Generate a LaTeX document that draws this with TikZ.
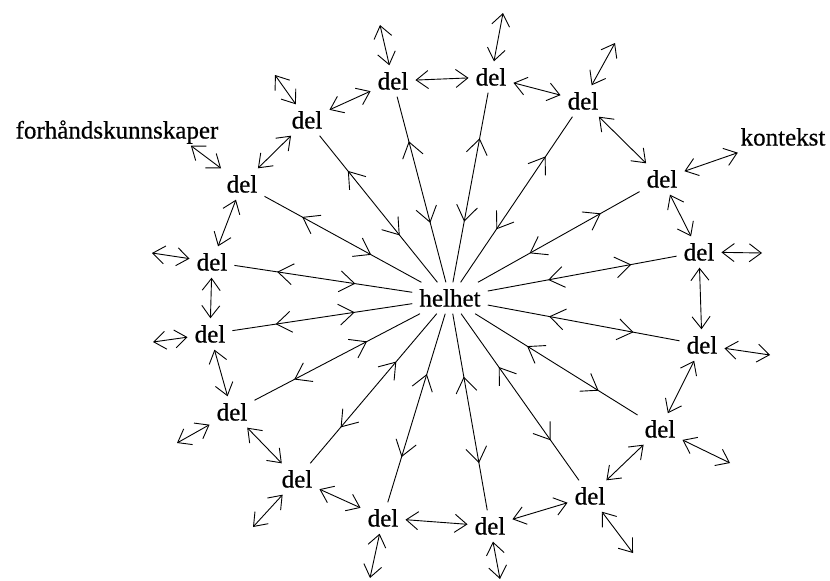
\documentclass[tikz,border=0pt]{standalone}
\usepackage{fontspec}
\setmainfont{Liberation Serif}[FakeBold=0.6]
\usetikzlibrary{arrows.meta,decorations.markings}
\begin{document}
\begin{tikzpicture}[x=1pt,y=-1pt,
  lbl/.style={font=\fontsize{25}{30}\selectfont, inner sep=7pt, text height=17pt, text depth=0pt},
  ringtip/.tip={Straight Barb[length=12pt,width=18pt]},
  midtip/.tip={Straight Barb[length=15pt,width=21pt]},
  ring/.style={line width=0.9pt, ringtip-ringtip},
  spoke/.style={line width=0.9pt, postaction={decorate}, decoration={markings,
     mark=at position 0.32 with {\arrowreversed{midtip}},
     mark=at position 0.76 with {\arrow{midtip}}}}
]
\useasboundingbox (0,0) rectangle (830,581);

\node[lbl] (h) at (450,298) {helhet};
\node[lbl] (d1) at (307,120) {del};
\node[lbl] (d2) at (393,81) {del};
\node[lbl] (d3) at (491,77) {del};
\node[lbl] (d4) at (583,101) {del};
\node[lbl] (d5) at (662,179) {del};
\node[lbl] (d6) at (699,252) {del};
\node[lbl] (d7) at (702,345) {del};
\node[lbl] (d8) at (660,429) {del};
\node[lbl] (d9) at (590,496) {del};
\node[lbl] (d10) at (490,526) {del};
\node[lbl] (d11) at (383,518) {del};
\node[lbl] (d12) at (297,479) {del};
\node[lbl] (d13) at (232,412) {del};
\node[lbl] (d14) at (210,334) {del};
\node[lbl] (d15) at (212,262) {del};
\node[lbl] (d16) at (242,184) {del};
\node[lbl] (k) at (783,137) {kontekst};
\node[lbl] (f) at (117,130) {forhåndskunnskaper};

\coordinate (o1) at (275,75);
\coordinate (o2) at (380,25);
\coordinate (o3) at (503,13);
\coordinate (o4) at (615,43);
\coordinate (o6) at (762,253);
\coordinate (o7) at (770,355);
\coordinate (o8) at (730,463);
\coordinate (o9) at (633,553);
\coordinate (o10) at (500,579);
\coordinate (o11) at (370,578);
\coordinate (o12) at (253,527);
\coordinate (o13) at (177,443);
\coordinate (o14) at (153,342);
\coordinate (o15) at (152,253);

% spokes
\foreach \i in {1,...,16} {
  \draw[spoke] (h) -- (d\i);
}

% ring
\foreach \i [evaluate=\i as \j using {int(mod(\i,16)+1)}] in {1,...,16} {
  \draw[ring] (d\i) -- (d\j);
}

% outward
\foreach \i in {1,2,3,4,6,7,8,9,10,11,12,13,14,15} {
  \draw[ring] (d\i) -- (o\i);
}
\draw[ring] (d5) -- (k);
\draw[ring] (d16) -- (f.-12);
\end{tikzpicture}
\end{document}
